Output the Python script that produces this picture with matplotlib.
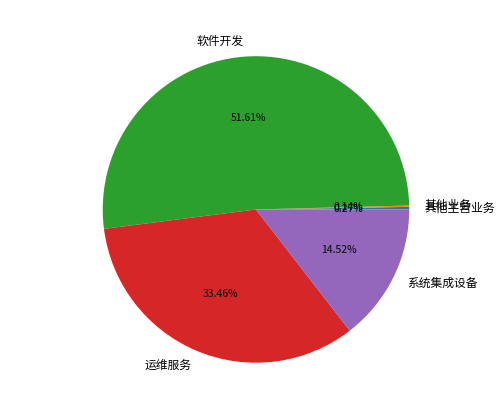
import matplotlib
matplotlib.use("Agg")
import matplotlib.pyplot as plt

plt.rcParams['font.family'] = ['Noto Sans CJK SC', 'DejaVu Sans']

labels = ["其他主营业务", "其他业务", "软件开发", "运维服务", "系统集成设备"]
shares = [0.27, 0.14, 51.61, 33.46, 14.52]

fig = plt.figure(figsize=(4.99, 4.16), dpi=100)
ax = fig.add_axes([0.129, 0.036, 0.768, 0.921])
wedges, texts, autotexts = ax.pie(shares, labels=labels, autopct="%.2f%%",
                                  textprops={"fontsize": 8.5})
for t in autotexts:
    t.set_fontsize(7.5)
fig.savefig("out.png")
